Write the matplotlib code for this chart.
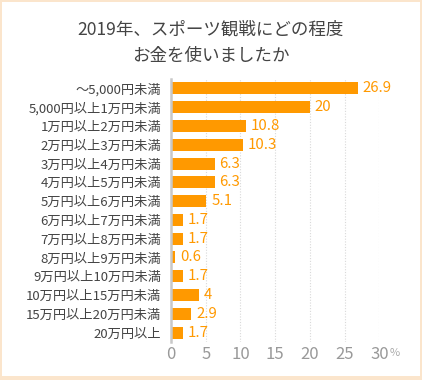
import matplotlib
matplotlib.use("Agg")
from matplotlib import pyplot as plt
from matplotlib.patches import Rectangle

plt.rcParams['font.family'] = ['Noto Sans CJK JP', 'DejaVu Sans']

categories = ['～5,000円未満', '5,000円以上1万円未満', '1万円以上2万円未満', '2万円以上3万円未満',
              '3万円以上4万円未満', '4万円以上5万円未満', '5万円以上6万円未満', '6万円以上7万円未満',
              '7万円以上8万円未満', '8万円以上9万円未満', '9万円以上10万円未満', '10万円以上15万円未満',
              '15万円以上20万円未満', '20万円以上']
values = [26.9, 20, 10.8, 10.3, 6.3, 6.3, 5.1, 1.7, 1.7, 0.6, 1.7, 4, 2.9, 1.7]
value_labels = ['26.9', '20', '10.8', '10.3', '6.3', '6.3', '5.1', '1.7', '1.7', '0.6', '1.7', '4', '2.9', '1.7']
xticks = [0, 5, 10, 15, 20, 25, 30]
title = '2019年、スポーツ観戦にどの程度\nお金を使いましたか'

orange = '#ff9900'
W, H = 422, 380

fig = plt.figure(figsize=(W / 100, H / 100), dpi=100, facecolor='#fbe5cc')
fig.patches.append(Rectangle((2 / W, 4 / H), 418 / W, 374 / H, transform=fig.transFigure,
                             facecolor='white', edgecolor='none', zorder=-5))

ax = fig.add_axes([171 / W, 38 / H, (379.3 - 171) / W, (342 - 79) / H])
ax.set_facecolor('none')

ypos = list(range(len(categories)))
ax.barh(ypos, values, height=0.64, color=orange, zorder=3)
for y, v, lab in zip(ypos, values, value_labels):
    ax.annotate(lab, (v, y), xytext=(3.5, 0), textcoords='offset points',
                va='center', ha='left', color=orange, fontsize=10.8)

ax.set_ylim(13.5, -0.5)
ax.set_xlim(0, 30)
ax.set_yticks(ypos)
ax.set_yticklabels(categories, fontsize=9.5, color='#444444')
ax.set_xticks(xticks)
ax.set_xticklabels([str(t) for t in xticks], fontsize=12, color='#999999')
ax.tick_params(axis='both', length=0)
ax.tick_params(axis='y', pad=7)
ax.tick_params(axis='x', pad=3)

# small % sign after the last tick label
ax.annotate('%', (30, 0), xycoords=ax.get_xaxis_transform(), xytext=(7.5, -4.5),
            textcoords='offset points', fontsize=8, color='#aaaaaa', ha='left', va='top')

for t in xticks[1:]:
    ax.axvline(t, color='#d9d9d9', linestyle=(0, (1, 1.5)), linewidth=0.8, zorder=1)

for s in ['top', 'right', 'bottom']:
    ax.spines[s].set_visible(False)
ax.spines['left'].set_color('#c8c8c8')
ax.spines['left'].set_linewidth(1.8)
ax.spines['left'].set_zorder(4)

fig.text(211 / W, 1 - 43 / H, title, ha='center', va='center', fontsize=12.6,
         color='#444444', linespacing=1.6)

fig.savefig('out.png', dpi=100, facecolor=fig.get_facecolor())
